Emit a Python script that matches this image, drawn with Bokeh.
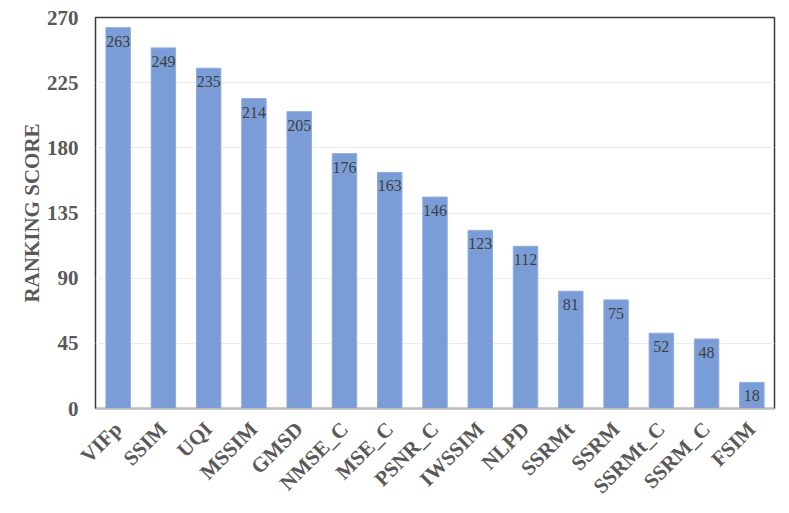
from math import pi
from bokeh.plotting import figure
from bokeh.models import ColumnDataSource, FactorRange, Range1d, FixedTicker, LabelSet
from bokeh.embed import file_html
from bokeh.resources import INLINE

metrics = ["VIFp", "SSIM", "UQI", "MSSIM", "GMSD", "NMSE_C", "MSE_C", "PSNR_C",
           "IWSSIM", "NLPD", "SSRMt", "SSRM", "SSRMt_C", "SSRM_C", "FSIM"]
scores = [263, 249, 235, 214, 205, 176, 163, 146, 123, 112, 81, 75, 52, 48, 18]
y_ticks = [0, 45, 90, 135, 180, 225, 270]

src = ColumnDataSource(dict(m=metrics, s=scores, lab=[str(v) for v in scores]))

p = figure(x_range=FactorRange(*metrics), y_range=Range1d(0, 270),
           width=789, height=513, output_backend="svg", toolbar_location=None,
           min_border_left=95, min_border_top=17, min_border_right=15, min_border_bottom=105)

p.vbar(x="m", top="s", width=0.54, source=src, fill_color="#7a9dd7",
       line_color="#8eacdf", line_width=1)

labels = LabelSet(x="m", y="s", text="lab", source=src, text_align="center",
                  text_baseline="top", y_offset=-8, text_font="Liberation Serif",
                  text_font_size="16px", text_color="#404040")
p.add_layout(labels)

p.outline_line_color = "#3a3a3a"
p.outline_line_width = 1.5

p.xgrid.grid_line_color = None
p.ygrid.grid_line_color = "#ececec"
p.ygrid.ticker = FixedTicker(ticks=y_ticks)

p.yaxis.ticker = FixedTicker(ticks=y_ticks)
p.yaxis.axis_label = "RANKING SCORE"
p.yaxis.axis_label_text_font = "Liberation Serif"
p.yaxis.axis_label_text_font_style = "bold"
p.yaxis.axis_label_text_font_size = "21px"
p.yaxis.axis_label_text_color = "#595959"
p.yaxis.axis_label_standoff = 0
p.yaxis.axis_line_color = None
p.yaxis.major_tick_line_color = None
p.yaxis.minor_tick_line_color = None
p.yaxis.major_label_standoff = 11

p.xaxis.axis_line_color = "#bfbfbf"
p.xaxis.major_tick_line_color = None
p.xaxis.major_label_orientation = pi / 4
p.xaxis.major_label_standoff = 11

for ax in (p.xaxis, p.yaxis):
    ax.major_label_text_font = "Liberation Serif"
    ax.major_label_text_font_style = "bold"
    ax.major_label_text_font_size = "21px"
    ax.major_label_text_color = "#595959"

open("out.html", "w").write(file_html(p, INLINE))
